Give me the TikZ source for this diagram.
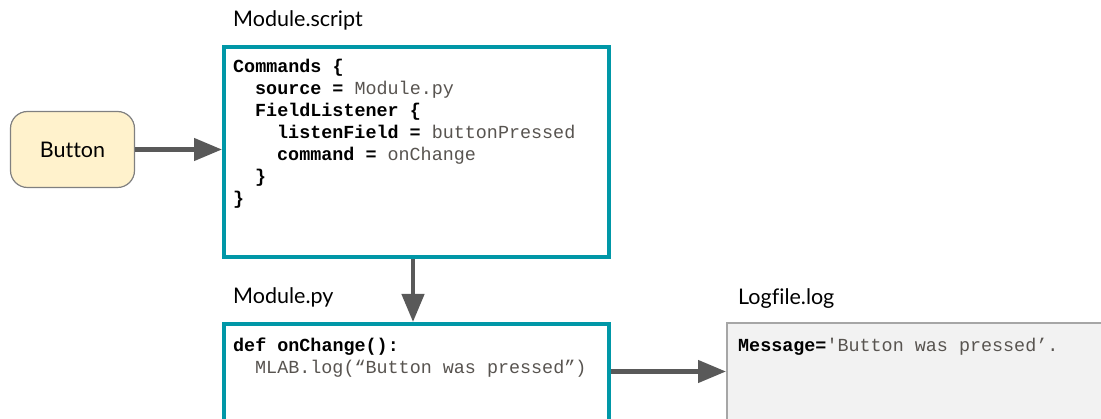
\documentclass[tikz,border=0pt]{standalone}
\usepackage{fontspec}
\setmainfont[Ligatures=NoCommon]{Lato}
\newfontfamily\codefont{Liberation Mono}
\usetikzlibrary{arrows.meta}

\definecolor{teal}{RGB}{0,151,167}
\definecolor{flowgray}{RGB}{89,89,89}
\definecolor{btnfill}{RGB}{255,242,204}
\definecolor{btnline}{RGB}{128,128,128}
\definecolor{logfill}{RGB}{242,242,242}
\definecolor{logline}{RGB}{166,166,166}
\definecolor{valcol}{RGB}{88,84,80}

\tikzset{
  filebox/.style={draw=teal, line width=4pt, fill=white, anchor=north west, inner sep=0pt},
  logbox/.style={draw=logline, line width=2pt, fill=logfill, anchor=north west, inner sep=0pt},
  btnbox/.style={draw=btnline, line width=1.2pt, fill=btnfill, rounded corners=17pt,
    minimum width=124pt, minimum height=76pt, inner sep=0pt, font=\fontsize{21.5}{24}\selectfont},
  caption/.style={anchor=base west, inner sep=0pt, font=\fontsize{21.5}{24}\selectfont},
  % the base anchor of a multi-line node sits on its last line
  code/.style={anchor=base west, inner sep=0pt, align=left,
    font=\codefont\fontsize{18.4}{22}\selectfont},
  flow/.style={draw=flowgray, line width=4.5pt, -{Triangle[length=28pt,width=22pt]}}
}
\newcommand{\kw}[1]{\textbf{#1}}
\newcommand{\val}[1]{\textcolor{valcol}{#1}}
\newcommand{\ind}{\hspace*{22pt}}

\begin{document}
\begin{tikzpicture}[x=1pt,y=-1pt]
  \useasboundingbox (0,0) rectangle (1101,419);

  % boxes
  \node[btnbox] (button) at (72.5,149.5) {Button};
  \node[filebox, minimum width=385pt, minimum height=210pt] (script) at (222,45) {};
  \node[filebox, minimum width=385pt, minimum height=130pt] (py) at (222,322) {};
  \node[logbox, minimum width=400pt, minimum height=130pt] (log) at (726,322) {};

  % guide coordinates for the arrow lines
  \coordinate (downx) at (413,0);
  \coordinate (logy) at (0,371.5);

  % captions above the boxes
  \node[caption] (scriptcap) at (233,27) {Module.script};
  \node[caption] (pycap) at (233,304) {Module.py};
  \node[caption] (logcap) at (738,305) {Logfile.log};

  % file contents
  \node[code] (scriptcode) at (233,204.5) {%
    \kw{Commands \{}\\
    \ind\kw{source =} \val{Module.py}\\
    \ind\kw{FieldListener \{}\\
    \ind\ind\kw{listenField =} \val{buttonPressed}\\
    \ind\ind\kw{command =} \val{onChange}\\
    \ind\kw{\}}\\
    \kw{\}}};
  \node[code] (pycode) at (233,373.5) {%
    \kw{def onChange():}\\
    \ind\val{MLAB.log(“Button was pressed”)}};
  \node[code] (logcode) at (738,351.5) {\kw{Message=}\val{'Button was pressed’.}};

  % flow arrows
  \draw[flow] (button.east) -- (script.west |- button.east);
  \draw[flow] (script.south -| downx) -- (py.north -| downx);
  \draw[flow] (py.east |- logy) -- (log.west |- logy);
\end{tikzpicture}
\end{document}
